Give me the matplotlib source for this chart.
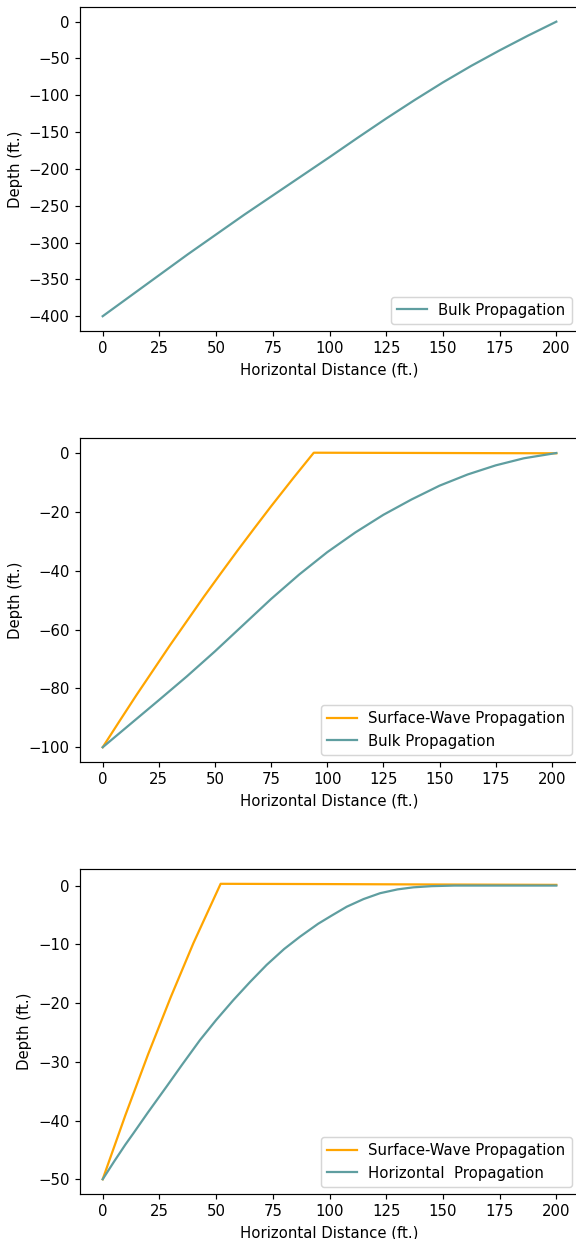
import matplotlib
matplotlib.use('Agg')
import matplotlib.pyplot as plt

# Panel 1: bulk propagation, 400 ft depth
bulk1_x = [0, 12.5, 25, 37.5, 50, 62.5, 75, 87.5, 100, 112.5, 125, 137.5, 150, 162.5, 175, 187.5, 200]
bulk1_y = [-400, -372, -344, -316, -289, -262, -236, -210, -184, -157.5, -131.5, -106.5, -82.5, -60, -39, -19, 0]

# Panel 2: 100 ft depth
surf2_x = [0, 7.5, 15, 22.5, 30, 37.5, 45, 52.5, 60, 67.5, 75, 85, 94, 150, 202]
surf2_y = [-100, -91.1, -82.3, -73.8, -65.3, -57.1, -48.9, -41.0, -33.2, -25.6, -18.1, -8.4, 0.1, 0, -0.1]
bulk2_x = [0, 12.5, 25, 37.5, 50, 62.5, 75, 87.5, 100, 112.5, 125, 137.5, 150, 162.5, 175, 187.5, 202]
bulk2_y = [-100, -92, -84, -75.9, -67.4, -58.5, -49.6, -41.3, -33.7, -27, -21, -15.8, -11.1, -7.3, -4.2, -1.8, 0]

# Panel 3: 50 ft depth
surf3_x = [0, 10, 20, 30, 40, 52, 100, 150, 200]
surf3_y = [-50, -39.1, -28.75, -19.0, -9.8, 0.3, 0.25, 0.18, 0.12]
horiz3_x = [0, 5, 10, 13.5, 20, 28.2, 35, 42.9, 50, 57.6, 65, 72.3, 80, 87, 95, 101, 107.6,
            115, 122.3, 130, 137, 145, 155, 200]
horiz3_y = [-50, -47.0, -44.1, -42.2, -38.6, -34.2, -30.5, -26.3, -22.9, -19.5, -16.4, -13.5, -10.8,
            -8.7, -6.5, -5.1, -3.6, -2.3, -1.3, -0.65, -0.3, -0.1, 0, 0]

ORANGE = 'orange'
TEAL = 'cadetblue'

DPI = 107
fig = plt.figure(figsize=(576 / DPI, 1239 / DPI), dpi=DPI)

ax1 = fig.add_axes([0.1389, 0.7329, 0.8663, 0.2615])
ax2 = fig.add_axes([0.1389, 0.3850, 0.8663, 0.2615])
ax3 = fig.add_axes([0.1389, 0.0363, 0.8663, 0.2623])

ax1.plot(bulk1_x, bulk1_y, color=TEAL, label='Bulk Propagation')

ax2.plot(surf2_x, surf2_y, color=ORANGE, label='Surface-Wave Propagation')
ax2.plot(bulk2_x, bulk2_y, color=TEAL, label='Bulk Propagation')

ax3.plot(surf3_x, surf3_y, color=ORANGE, label='Surface-Wave Propagation')
ax3.plot(horiz3_x, horiz3_y, color=TEAL, label='Horizontal  Propagation')

for ax in (ax1, ax2, ax3):
    ax.set_xlabel('Horizontal Distance (ft.)')
    ax.set_ylabel('Depth (ft.)')
    ax.legend(loc='lower right')

ax2.set_yticks([0, -20, -40, -60, -80, -100])

fig.savefig('out.png', dpi=DPI)
